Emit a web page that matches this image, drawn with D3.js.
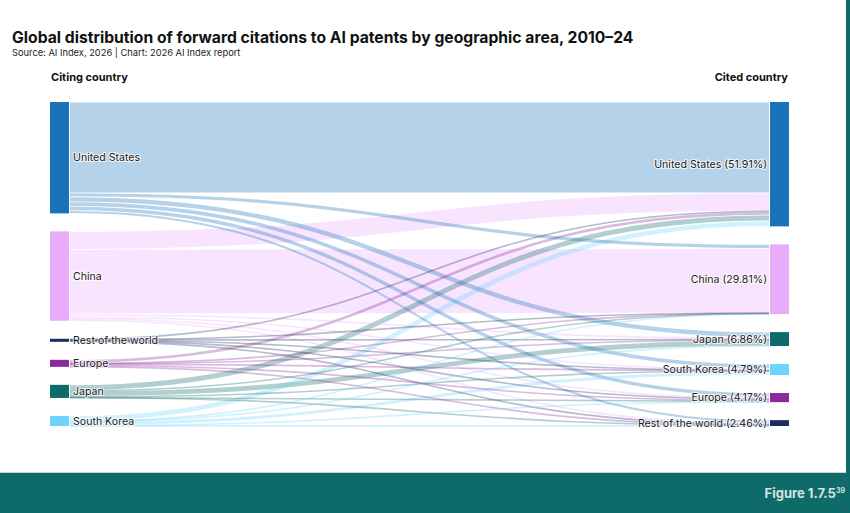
<!DOCTYPE html>
<html><head><meta charset="utf-8">
<script src="https://cdn.jsdelivr.net/npm/d3@7"></script>
<style>
body{margin:0;background:#fff}
svg{display:block}
text{font-family:Inter,"Noto Sans",sans-serif}
</style>
</head><body>
<svg id="chart" width="850" height="513"></svg>
<script>
// ---- data ----
const citingCountries = ["United States", "China", "Rest of the world", "Europe", "Japan", "South Korea"];
const citedCountries = ["United States", "China", "Japan", "South Korea", "Europe", "Rest of the world"];
const citedShareLabels = ["51.91%", "29.81%", "6.86%", "4.79%", "4.17%", "2.46%"];
// share of all forward citations (%), from each citing area to cited areas (citedCountries order)
const fromUnitedStates = [38.8, 1.7, 2.2, 1.9, 1.8, 1.2];
const fromChina = [7.7, 27.6, 0.9, 0.8, 0.7, 0.5];
const fromRestOfWorld = [0.35, 0.1, 0.15, 0.1, 0.2, 0.4];
const fromEurope = [1.5, 0.15, 0.2, 0.1, 0.9, 0.15];
const fromJapan = [2.5, 0.15, 2.4, 0.2, 0.2, 0.15];
const fromSouthKorea = [2.3, 0.1, 0.1, 1.6, 0.1, 0.1];
const flowRows = [fromUnitedStates, fromChina, fromRestOfWorld, fromEurope, fromJapan, fromSouthKorea];

const colorOf = {
  "United States": "#1a73b8",
  "China": "#e8acfb",
  "Rest of the world": "#1b2d5f",
  "Europe": "#8a2a9c",
  "Japan": "#0f6b6b",
  "South Korea": "#6fd4fb"
};

// ---- layout ----
const svg = d3.select("#chart");
const W = 850, H = 513;
const yTop = 102, yBottom = 426, pad = 18;
const leftX0 = 50, nodeW = 19, rightX0 = 770;

const links = [];
citingCountries.forEach((s, i) => flowRows[i].forEach((v, j) => links.push({s: i, t: j, value: v})));
const srcTotals = citingCountries.map((_, i) => d3.sum(flowRows[i]));
const tgtTotals = citedCountries.map((_, j) => d3.sum(flowRows, r => r[j]));
const total = d3.sum(srcTotals);
const h = d3.scaleLinear().domain([0, total]).range([0, yBottom - yTop - pad * 5]);

function stack(totals) {
  let y = yTop;
  return totals.map(v => { const n = {y0: y, y1: y + h(v)}; y = n.y1 + pad; return n; });
}
const leftNodes = stack(srcTotals);
const rightNodes = stack(tgtTotals);

const sOff = leftNodes.map(n => n.y0), tOff = rightNodes.map(n => n.y0);
d3.sort(links, d => d.s, d => d.t).forEach(l => { l.w = h(l.value); l.ys = sOff[l.s] + l.w / 2; sOff[l.s] += l.w; });
d3.sort(links, d => d.t, d => d.s).forEach(l => { l.yt = tOff[l.t] + l.w / 2; tOff[l.t] += l.w; });

// ---- frame ----
svg.append("rect").attr("width", W).attr("height", H).attr("fill", "#fff");
svg.append("rect").attr("x", 846).attr("y", 0).attr("width", 4).attr("height", H).attr("fill", "#0e6b69");
svg.append("rect").attr("x", 0).attr("y", 473).attr("width", W).attr("height", 40).attr("fill", "#0e6b69");
svg.append("line").attr("x1", 0).attr("x2", 846).attr("y1", 472.5).attr("y2", 472.5).attr("stroke", "#c9d6d5").attr("stroke-width", 1);

// ---- titles ----
svg.append("text").attr("x", 12).attr("y", 43).attr("font-size", 15.7).attr("font-weight", 700).attr("fill", "#111")
  .text("Global distribution of forward citations to AI patents by geographic area, 2010–24");
svg.append("text").attr("x", 12).attr("y", 56).attr("font-size", 9.3).attr("fill", "#222")
  .text("Source: AI Index, 2026 | Chart: 2026 AI Index report");
svg.append("text").attr("x", 51).attr("y", 81).attr("font-size", 11).attr("font-weight", 700).attr("fill", "#111")
  .text("Citing country");
svg.append("text").attr("x", 788).attr("y", 81).attr("text-anchor", "end").attr("font-size", 11).attr("font-weight", 700).attr("fill", "#111")
  .text("Cited country");

// ---- links ----
const linkGen = d3.linkHorizontal();
svg.append("g").attr("fill", "none").selectAll("path")
  .data(d3.sort(links, d => -d.value))
  .join("path")
  .attr("d", l => linkGen({source: [leftX0 + nodeW + 1, l.ys], target: [rightX0 - 1, l.yt]}))
  .attr("stroke", l => colorOf[citingCountries[l.s]])
  .attr("stroke-opacity", 0.32)
  .attr("stroke-width", l => Math.max(1.6, l.w - 0.8));

// ---- nodes ----
svg.append("g").selectAll("rect").data(leftNodes).join("rect")
  .attr("x", leftX0).attr("width", nodeW)
  .attr("y", d => d.y0).attr("height", d => Math.max(2.5, d.y1 - d.y0))
  .attr("fill", (d, i) => colorOf[citingCountries[i]]);
svg.append("g").selectAll("rect").data(rightNodes).join("rect")
  .attr("x", rightX0).attr("width", nodeW)
  .attr("y", d => d.y0).attr("height", d => Math.max(2.5, d.y1 - d.y0))
  .attr("fill", (d, i) => colorOf[citedCountries[i]]);

// ---- labels ----
const lab = svg.append("g").attr("font-size", 10.6).attr("fill", "#222")
  .attr("stroke", "#fff").attr("stroke-width", 2.2).attr("stroke-opacity", 0.75)
  .attr("paint-order", "stroke").attr("stroke-linejoin", "round");
lab.selectAll("text.l").data(leftNodes).join("text").attr("class", "l")
  .attr("x", leftX0 + nodeW + 4).attr("y", d => (d.y0 + d.y1) / 2).attr("dy", "0.35em")
  .text((d, i) => citingCountries[i]);
lab.selectAll("text.r").data(rightNodes).join("text").attr("class", "r")
  .attr("x", rightX0 - 3).attr("y", d => (d.y0 + d.y1) / 2).attr("dy", "0.35em").attr("text-anchor", "end")
  .text((d, i) => `${citedCountries[i]} (${citedShareLabels[i]})`);

// ---- figure tag ----
const fig = svg.append("text").attr("x", 845).attr("y", 498).attr("text-anchor", "end")
  .attr("font-family", "'Liberation Sans Narrow','Arial Narrow',sans-serif").attr("font-weight", 700)
  .attr("font-size", 13).attr("fill", "#d3e4e2");
fig.append("tspan").text("Figure 1.7.5");
fig.append("tspan").attr("font-size", 7).attr("dy", -5).text("39");
</script>
</body></html>
